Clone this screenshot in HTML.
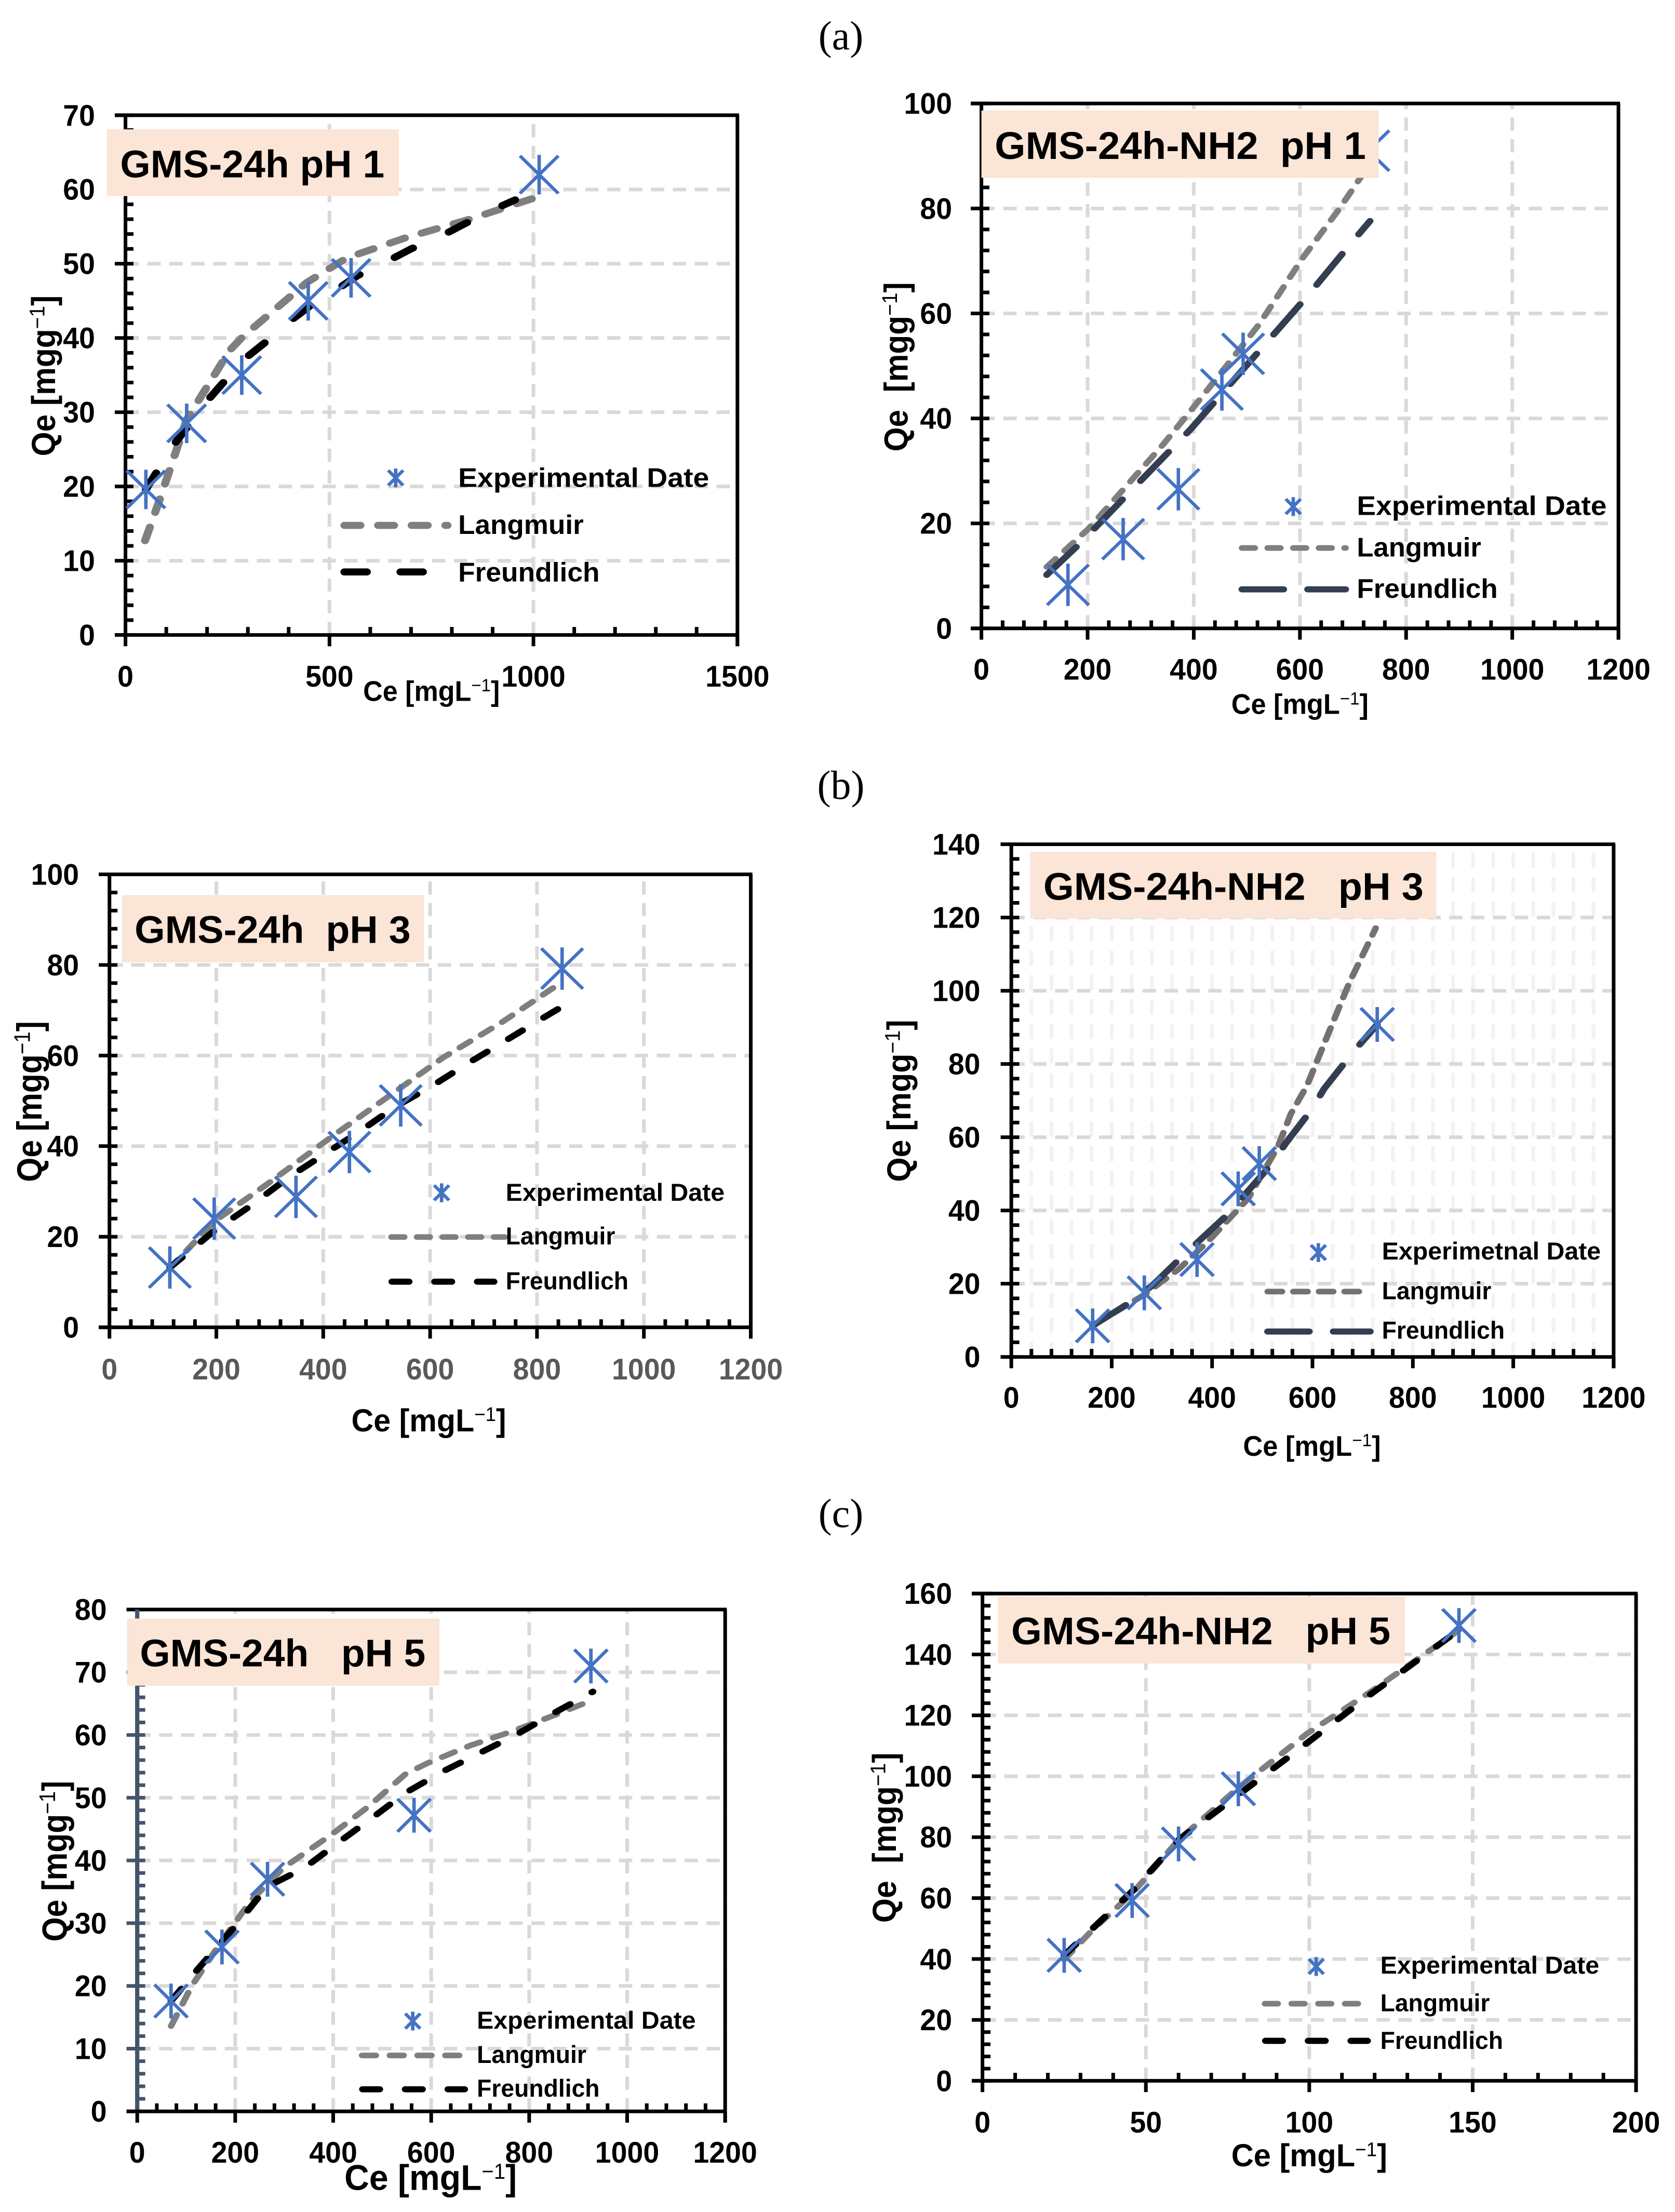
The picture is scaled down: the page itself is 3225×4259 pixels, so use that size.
<!DOCTYPE html>
<html lang="en">
<head>
<meta charset="utf-8">
<title>Adsorption isotherms</title>
<style>
html,body{margin:0;padding:0;background:#fff}
svg{display:block}
text{font-family:"Liberation Sans",sans-serif;font-weight:bold;fill:#000}
.cap{font-family:"Liberation Serif",serif;font-weight:normal;font-size:78px}
.sup{font-weight:normal}
</style>
</head>
<body>
<svg id="figure" xmlns="http://www.w3.org/2000/svg" width="3225" height="4259" viewBox="0 0 3225 4259">
<rect width="3225" height="4259" fill="#fff"/>
<text class="cap" x="1619" y="95" text-anchor="middle">(a)</text>
<text class="cap" x="1619" y="1538" text-anchor="middle">(b)</text>
<text class="cap" x="1619" y="2940" text-anchor="middle">(c)</text>

<g id="panelA" transform="translate(0,0) scale(1.0281,0.9056)">
  <g class="plot"></g>
  <rect x="200" y="275" width="547" height="142" fill="#fbe5d6"/>
  <text x="225" y="377" font-size="82" textLength="495" lengthAdjust="spacingAndGlyphs">GMS-24h pH 1</text>
  <g>
    <g stroke="#4472c4" stroke-width="6.5" fill="none"><path d="M727 1000L755 1032M755 1000L727 1032M741 996V1036"/></g>
    <text x="858" y="1035" font-size="57" textLength="470" lengthAdjust="spacingAndGlyphs">Experimental Date</text>
    <line x1="645" y1="1117" x2="838" y2="1117" stroke="#7f7f7f" stroke-width="15" stroke-linecap="round" stroke-dasharray="30 33"/>
    <text x="858" y="1135" font-size="57" textLength="235" lengthAdjust="spacingAndGlyphs">Langmuir</text>
    <line x1="645" y1="1216" x2="795" y2="1216" stroke="#000" stroke-width="15" stroke-linecap="round" stroke-dasharray="42 63"/>
    <text x="858" y="1236" font-size="57" textLength="265" lengthAdjust="spacingAndGlyphs">Freundlich</text>
  </g>
  <text transform="translate(103,970) rotate(-90)" font-size="62" textLength="342" lengthAdjust="spacingAndGlyphs">Qe [mgg<tspan class="sup" dy="-20" font-size="40">−1</tspan><tspan dy="20">]</tspan></text>
  <text x="680" y="1490" font-size="60" textLength="256" lengthAdjust="spacingAndGlyphs">Ce [mgL<tspan class="sup" dy="-20" font-size="38">−1</tspan><tspan dy="20">]</tspan></text>
</g>

<g id="panelB" transform="translate(1612,0) scale(1.0281,0.9056)">
  <g class="plot"></g>
  <rect x="270" y="235" width="744" height="143" fill="#fbe5d6"/>
  <text x="295" y="338" font-size="82" textLength="695" lengthAdjust="spacingAndGlyphs" xml:space="preserve">GMS-24h-NH2  pH 1</text>
  <g>
    <g stroke="#4472c4" stroke-width="6.5" fill="none"><path d="M840 1061L868 1093M868 1061L840 1093M854 1057V1097"/></g>
    <text x="973" y="1095" font-size="57" textLength="468" lengthAdjust="spacingAndGlyphs">Experimental Date</text>
    <line x1="758" y1="1165" x2="952" y2="1165" stroke="#7f7f7f" stroke-width="12" stroke-linecap="round" stroke-dasharray="24 24"/>
    <text x="973" y="1183" font-size="57" textLength="233" lengthAdjust="spacingAndGlyphs">Langmuir</text>
    <line x1="758" y1="1253" x2="952" y2="1253" stroke="#333f50" stroke-width="13" stroke-linecap="round" stroke-dasharray="78 45"/>
    <text x="973" y="1271" font-size="57" textLength="264" lengthAdjust="spacingAndGlyphs">Freundlich</text>
  </g>
  <text transform="translate(132,960) rotate(-90)" font-size="62" textLength="360" lengthAdjust="spacingAndGlyphs" xml:space="preserve">Qe  [mgg<tspan class="sup" dy="-20" font-size="40">−1</tspan><tspan dy="20">]</tspan></text>
  <text x="738" y="1518" font-size="60" textLength="257" lengthAdjust="spacingAndGlyphs">Ce [mgL<tspan class="sup" dy="-20" font-size="38">−1</tspan><tspan dy="20">]</tspan></text>
</g>

<g id="panelC" transform="translate(0,1420) scale(1.0281,0.9056)">
  <g class="plot"></g>
  <rect x="228" y="335" width="566" height="143" fill="#fbe5d6"/>
  <text x="252" y="437" font-size="82" textLength="517" lengthAdjust="spacingAndGlyphs" xml:space="preserve">GMS-24h  pH 3</text>
  <g>
    <g stroke="#4472c4" stroke-width="6.5" fill="none"><path d="M813 952L841 984M841 952L813 984M827 948V988"/></g>
    <text x="947" y="985" font-size="52" textLength="410" lengthAdjust="spacingAndGlyphs">Experimental Date</text>
    <line x1="733" y1="1062" x2="945" y2="1062" stroke="#7f7f7f" stroke-width="12" stroke-linecap="round" stroke-dasharray="24 24"/>
    <text x="947" y="1078" font-size="52" textLength="205" lengthAdjust="spacingAndGlyphs">Langmuir</text>
    <line x1="734" y1="1157" x2="925" y2="1157" stroke="#000" stroke-width="13" stroke-linecap="round" stroke-dasharray="32 48"/>
    <text x="947" y="1173" font-size="52" textLength="230" lengthAdjust="spacingAndGlyphs">Freundlich</text>
  </g>
  <text transform="translate(78,945) rotate(-90)" font-size="66" textLength="342" lengthAdjust="spacingAndGlyphs">Qe [mgg<tspan class="sup" dy="-22" font-size="42">−1</tspan><tspan dy="22">]</tspan></text>
  <text x="658" y="1475" font-size="68" textLength="290" lengthAdjust="spacingAndGlyphs">Ce [mgL<tspan class="sup" dy="-22" font-size="42">−1</tspan><tspan dy="22">]</tspan></text>
</g>

<g id="panelD" transform="translate(1612,1420) scale(1.0281,0.9056)">
  <g class="plot"></g>
  <rect x="362" y="243" width="760" height="142" fill="#fbe5d6"/>
  <text x="386" y="345" font-size="82" textLength="712" lengthAdjust="spacingAndGlyphs" xml:space="preserve">GMS-24h-NH2   pH 3</text>
  <g>
    <g stroke="#4472c4" stroke-width="6.5" fill="none"><path d="M887 1079L915 1111M915 1079L887 1111M901 1075V1115"/></g>
    <text x="1020" y="1110" font-size="52" textLength="410" lengthAdjust="spacingAndGlyphs">Experimetnal Date</text>
    <line x1="806" y1="1178" x2="998" y2="1178" stroke="#767171" stroke-width="12" stroke-linecap="round" stroke-dasharray="27 21"/>
    <text x="1020" y="1194" font-size="52" textLength="205" lengthAdjust="spacingAndGlyphs">Langmuir</text>
    <line x1="806" y1="1263" x2="998" y2="1263" stroke="#333f50" stroke-width="13" stroke-linecap="round" stroke-dasharray="78 45"/>
    <text x="1020" y="1278" font-size="52" textLength="230" lengthAdjust="spacingAndGlyphs">Freundlich</text>
  </g>
  <text transform="translate(137,945) rotate(-90)" font-size="62" textLength="345" lengthAdjust="spacingAndGlyphs">Qe [mgg<tspan class="sup" dy="-20" font-size="40">−1</tspan><tspan dy="20">]</tspan></text>
  <text x="760" y="1527" font-size="60" textLength="258" lengthAdjust="spacingAndGlyphs">Ce [mgL<tspan class="sup" dy="-20" font-size="38">−1</tspan><tspan dy="20">]</tspan></text>
</g>

<g id="panelE" transform="translate(0,2840) scale(1.0281,0.9056)">
  <g class="plot"></g>
  <rect x="238" y="305" width="585" height="143" fill="#fbe5d6"/>
  <text x="262" y="407" font-size="82" textLength="535" lengthAdjust="spacingAndGlyphs" xml:space="preserve">GMS-24h   pH 5</text>
  <g>
    <g stroke="#4472c4" stroke-width="6.5" fill="none"><path d="M759 1145L787 1177M787 1145L759 1177M773 1141V1181"/></g>
    <text x="893" y="1177" font-size="52" textLength="410" lengthAdjust="spacingAndGlyphs">Experimental Date</text>
    <line x1="678" y1="1234" x2="872" y2="1234" stroke="#7f7f7f" stroke-width="12" stroke-linecap="round" stroke-dasharray="26 26"/>
    <text x="893" y="1250" font-size="52" textLength="205" lengthAdjust="spacingAndGlyphs">Langmuir</text>
    <line x1="679" y1="1306" x2="870" y2="1306" stroke="#000" stroke-width="13" stroke-linecap="round" stroke-dasharray="32 48"/>
    <text x="893" y="1322" font-size="52" textLength="230" lengthAdjust="spacingAndGlyphs">Freundlich</text>
  </g>
  <text transform="translate(125,992) rotate(-90)" font-size="66" textLength="342" lengthAdjust="spacingAndGlyphs">Qe [mgg<tspan class="sup" dy="-22" font-size="42">−1</tspan><tspan dy="22">]</tspan></text>
  <text x="645" y="1520" font-size="76" textLength="323" lengthAdjust="spacingAndGlyphs">Ce [mgL<tspan class="sup" dy="-24" font-size="46">−1</tspan><tspan dy="24">]</tspan></text>
</g>

<g id="panelF" transform="translate(1612,2840) scale(1.0281,0.9056)">
  <g class="plot"></g>
  <rect x="301" y="258" width="762" height="143" fill="#fbe5d6"/>
  <text x="326" y="360" font-size="82" textLength="710" lengthAdjust="spacingAndGlyphs" xml:space="preserve">GMS-24h-NH2   pH 5</text>
  <g>
    <g stroke="#4472c4" stroke-width="6.5" fill="none"><path d="M883 1029L911 1061M911 1029L883 1061M897 1025V1065"/></g>
    <text x="1017" y="1060" font-size="52" textLength="410" lengthAdjust="spacingAndGlyphs">Experimental Date</text>
    <line x1="801" y1="1124" x2="995" y2="1124" stroke="#7f7f7f" stroke-width="12" stroke-linecap="round" stroke-dasharray="24 26"/>
    <text x="1017" y="1140" font-size="52" textLength="205" lengthAdjust="spacingAndGlyphs">Langmuir</text>
    <line x1="802" y1="1203" x2="993" y2="1203" stroke="#000" stroke-width="13" stroke-linecap="round" stroke-dasharray="32 48"/>
    <text x="1017" y="1220" font-size="52" textLength="230" lengthAdjust="spacingAndGlyphs">Freundlich</text>
  </g>
  <text transform="translate(110,952) rotate(-90)" font-size="62" textLength="362" lengthAdjust="spacingAndGlyphs" xml:space="preserve">Qe  [mgg<tspan class="sup" dy="-20" font-size="40">−1</tspan><tspan dy="20">]</tspan></text>
  <text x="738" y="1470" font-size="68" textLength="292" lengthAdjust="spacingAndGlyphs">Ce [mgL<tspan class="sup" dy="-22" font-size="42">−1</tspan><tspan dy="22">]</tspan></text>
</g>
</svg>

<script>
// ---------- Panel A: GMS-24h pH 1 ----------
const aXTicks = [0, 500, 1000, 1500];
const aYTicks = [0, 10, 20, 30, 40, 50, 60, 70];
const aExpCe = [50, 150, 285, 448, 553, 1014];
const aExpQe = [19.6, 28.5, 35, 45, 48.1, 62];
const aLangCe = [48, 85, 150, 255, 288, 445, 543, 687, 844, 1021];
const aLangQe = [12.7, 18.4, 29, 38.3, 40.2, 47.5, 50.8, 53.5, 56, 59.2];
const aFreuCe = [50, 118, 203, 288, 347, 399, 452, 517, 569, 641, 700, 766, 825, 890, 955];
const aFreuQe = [19.6, 25.6, 31.7, 37, 39.6, 42.1, 44.3, 46.5, 48.4, 50.3, 52, 53.5, 55.2, 57, 58.6];

// ---------- Panel B: GMS-24h-NH2 pH 1 ----------
const bXTicks = [0, 200, 400, 600, 800, 1000, 1200];
const bYTicks = [0, 20, 40, 60, 80, 100];
const bExpCe = [163, 267, 371, 453, 493, 729];
const bExpQe = [8.3, 17, 26.5, 45.5, 52.3, 91];
const bLangCe = [123, 201, 272, 342, 397, 453, 523, 604, 674, 719, 734];
const bLangQe = [11.7, 18.9, 27, 35, 41.8, 48.9, 57.9, 70.4, 79.9, 86.6, 88.8];
const bFreuCe = [123, 186, 272, 362, 392, 528, 614, 694, 732];
const bFreuQe = [10.2, 16.2, 25.2, 34.6, 37.7, 53.4, 63.3, 73.1, 77.6];

// ---------- Panel C: GMS-24h pH 3 ----------
const cXTicks = [0, 200, 400, 600, 800, 1000, 1200];
const cYTicks = [0, 20, 40, 60, 80, 100];
const cExpCe = [113, 196, 349, 449, 545, 847];
const cExpQe = [13.2, 24, 28.8, 38.7, 49, 79.2];
const cLangCe = [113, 195, 295, 415, 545, 625, 735, 840];
const cLangQe = [13, 23.3, 31.6, 42, 52.9, 59.6, 67.4, 75.7];
const cFreuCe = [113, 195, 265, 335, 465, 535, 605, 675, 740, 810, 847];
const cFreuQe = [13.2, 21.2, 26.9, 33.1, 43, 48.7, 53.4, 58.6, 63.2, 68.2, 70.8];

// ---------- Panel D: GMS-24h-NH2 pH 3 ----------
const dXTicks = [0, 200, 400, 600, 800, 1000, 1200];
const dYTicks = [0, 20, 40, 60, 80, 100, 120, 140];
const dExpCe = [162, 265, 370, 452, 494, 729];
const dExpQe = [8.5, 17.5, 26.6, 45.9, 52.8, 90.8];
const dLangCe = [162, 265, 334, 398, 472, 531, 557, 589, 616, 643, 674, 701, 726];
const dLangQe = [8.5, 17, 24, 32.4, 43.3, 57.4, 66.4, 74.1, 83.1, 92.1, 102.4, 110, 117.1];
const dFreuCe = [162, 233, 281, 334, 430, 520, 547, 599, 623, 680, 729];
const dFreuQe = [8.5, 14.6, 19.5, 26.6, 38.8, 52.9, 58.4, 67.7, 73.2, 83.1, 90.8];

// ---------- Panel E: GMS-24h pH 5 ----------
const eXTicks = [0, 200, 400, 600, 800, 1000, 1200];
const eYTicks = [0, 10, 20, 30, 40, 50, 60, 70, 80];
const eExpCe = [69, 173, 266, 565, 926];
const eExpQe = [17.6, 26.2, 37, 47.2, 71];
const eLangCe = [69, 112, 173, 232, 298, 396, 472, 548, 592, 679, 766, 853, 930];
const eLangQe = [13.6, 20.1, 27.2, 33.6, 38.8, 44.1, 48.6, 53.8, 55.5, 58.3, 60.6, 63.2, 65.6];
const eFreuCe = [69, 124, 203, 265, 341, 406, 483, 548, 624, 701, 777, 853, 930];
const eFreuQe = [17.6, 22.7, 29.8, 35.8, 38.8, 42.6, 47, 50.8, 54.2, 57.2, 60.2, 63.6, 66.9];

// ---------- Panel F: GMS-24h-NH2 pH 5 ----------
const fXTicks = [0, 50, 100, 150, 200];
const fYTicks = [0, 20, 40, 60, 80, 100, 120, 140, 160];
const fExpCe = [25, 45.8, 60, 78.3, 145.8];
const fExpQe = [41.2, 59.2, 77.8, 95.9, 149.5];
const fLangCe = [25, 34, 45.8, 60.1, 78.3, 99.3, 119, 145.8];
const fLangQe = [39.8, 49.9, 61.5, 79.2, 96.2, 114, 127.9, 148];
const fFreuCe = [25, 38.9, 45.8, 60.1, 78.3, 99.3, 119, 145.8];
const fFreuQe = [41.2, 55.3, 62.2, 79.2, 93.9, 110.9, 127.1, 148];

const NS = 'http://www.w3.org/2000/svg';
const H_STROKE = 7.7;
const V_STROKE = 6.8;

function make(tag, parent, attrs) {
  const el = document.createElementNS(NS, tag);
  for (const k in attrs) el.setAttribute(k, attrs[k]);
  parent.appendChild(el);
  return el;
}

function linear(d0, d1, r0, r1) {
  return function (v) { return r0 + (v - d0) * (r1 - r0) / (d1 - d0); };
}

function drawGrid(g, s, xs, ys) {
  const xTicks = s.xTicks, yTicks = s.yTicks;
  const gridV = s.denseGrid
    ? Array.from({length: Math.round((xTicks[xTicks.length - 1] - xTicks[0]) / s.xMinor) + 1}, (_, i) => xTicks[0] + i * s.xMinor)
    : xTicks;
  gridV.forEach(function (t) {
    if (t === xTicks[0]) return;
    const el = make('line', g, {x1: xs(t), x2: xs(t), y1: s.bottom, y2: s.top,
      stroke: s.denseGrid ? '#f2f2f2' : '#d9d9d9', 'stroke-width': V_STROKE, 'stroke-dasharray': s.denseGrid ? '32 20' : '28 18'});
    
    
  });
  yTicks.forEach(function (t) {
    if (t === yTicks[0]) return;
    const el = make('line', g, {x1: s.left, x2: s.right, y1: ys(t), y2: ys(t),
      stroke: '#d9d9d9', 'stroke-width': H_STROKE, 'stroke-dasharray': '25 16'});
    
    
  });
}

function drawAxes(g, s, xs, ys) {
  const yCol = s.yAxisColor || '#000';
  const xMax = s.xTicks[s.xTicks.length - 1], yMax = s.yTicks[s.yTicks.length - 1];
  for (let v = s.xTicks[0]; v <= xMax + 1e-6; v += s.xMinor) {
    const isMajor = s.xTicks.indexOf(v) >= 0;
    const tick = make('line', g, {x1: xs(v), x2: xs(v), y1: s.bottom - (isMajor ? 0 : 17), y2: s.bottom + (isMajor ? 24 : 0), stroke: '#000', 'stroke-width': V_STROKE});
    
    
  }
  for (let v = s.yTicks[0]; v <= yMax + 1e-6; v += s.yMinor) {
    const isMajor = s.yTicks.indexOf(v) >= 0;
    const tick = make('line', g, {x1: s.left - (isMajor ? 20 : 0), x2: s.left + 15, y1: ys(v), y2: ys(v), stroke: yCol, 'stroke-width': H_STROKE});
    
    
  }
  const top = make('line', g, {x1: s.left - 20, x2: s.right + 3, y1: s.top, y2: s.top, stroke: '#000', 'stroke-width': H_STROKE});
  
  
  const right = make('line', g, {x1: s.right, x2: s.right, y1: s.top, y2: s.bottom + 24, stroke: '#000', 'stroke-width': V_STROKE});
  
  
  const yAxis = make('line', g, {x1: s.left, x2: s.left, y1: s.top, y2: s.bottom, stroke: yCol, 'stroke-width': s.yAxisColor ? 8 : V_STROKE});
  
  
  const xAxis = make('line', g, {x1: s.left - 20, x2: s.right + 3, y1: s.bottom, y2: s.bottom, stroke: '#000', 'stroke-width': H_STROKE});
  
  
}

function drawTickLabels(g, s, xs, ys) {
  s.xTicks.forEach(function (t) {
    const label = String(t);
    const el = make('text', g, {x: xs(t), y: s.xLabelY, 'text-anchor': 'middle', 'font-size': 63,
      textLength: label.length * 30, lengthAdjust: 'spacingAndGlyphs', style: 'fill:' + (s.xLabelColor || '#000')});
    el.textContent = label;
    
    
  });
  s.yTicks.forEach(function (t) {
    const label = String(t);
    const el = make('text', g, {x: s.yLabelX, y: ys(t) + 22, 'text-anchor': 'end', 'font-size': 63,
      textLength: label.length * 30, lengthAdjust: 'spacingAndGlyphs'});
    el.textContent = label;
    
    
  });
}

function curvePath(xv, yv, xs, ys) {
  return xv.map(function (v, i) { return (i ? 'L' : 'M') + xs(v).toFixed(1) + ' ' + ys(yv[i]).toFixed(1); }).join('');
}

function drawCurves(g, s, xs, ys) {
  const lang = make('path', g, {d: curvePath(s.langCe, s.langQe, xs, ys), fill: 'none', stroke: s.langColor,
    'stroke-width': s.langWidth, 'stroke-linecap': 'round', 'stroke-linejoin': 'round', 'stroke-dasharray': s.langDash});
  
  
  const freu = make('path', g, {d: curvePath(s.freuCe, s.freuQe, xs, ys), fill: 'none', stroke: s.freuColor,
    'stroke-width': s.freuWidth, 'stroke-linecap': 'round', 'stroke-linejoin': 'round', 'stroke-dasharray': s.freuDash});
  
  
}

function drawMarkers(g, s, xs, ys) {
  s.expCe.forEach(function (v, i) {
    const cx = xs(v), cy = ys(s.expQe[i]), hx = s.markerX, hy = s.markerY;
    const d = 'M' + (cx - hx) + ' ' + (cy - hy) + 'L' + (cx + hx) + ' ' + (cy + hy) +
              'M' + (cx + hx) + ' ' + (cy - hy) + 'L' + (cx - hx) + ' ' + (cy + hy) +
              'M' + cx + ' ' + (cy - hy - 2) + 'V' + (cy + hy + 2);
    const el = make('path', g, {d: d, fill: 'none', stroke: '#4472c4', 'stroke-width': 6.5});
    
    
  });
}

function drawPanel(id, s) {
  const g = document.querySelector('#' + id + ' .plot');
  const xs = linear(s.xTicks[0], s.xTicks[s.xTicks.length - 1], s.left, s.right);
  const ys = linear(s.yTicks[0], s.yTicks[s.yTicks.length - 1], s.bottom, s.top);
  drawGrid(g, s, xs, ys);
  drawAxes(g, s, xs, ys);
  drawTickLabels(g, s, xs, ys);
  drawCurves(g, s, xs, ys);
  drawMarkers(g, s, xs, ys);
}

drawPanel('panelA', {
  left: 235, right: 1381, top: 245, bottom: 1350, xMinor: 100, yMinor: 2, xLabelY: 1460, yLabelX: 178,
  xTicks: aXTicks, yTicks: aYTicks, expCe: aExpCe, expQe: aExpQe, langCe: aLangCe, langQe: aLangQe, freuCe: aFreuCe, freuQe: aFreuQe,
  langColor: '#7f7f7f', langWidth: 15, langDash: '30 33', freuColor: '#000', freuWidth: 15, freuDash: '40 75', markerX: 36, markerY: 40
});
drawPanel('panelB', {
  left: 270, right: 1463, top: 220, bottom: 1336, xMinor: 40, yMinor: 4, xLabelY: 1445, yLabelX: 215,
  xTicks: bXTicks, yTicks: bYTicks, expCe: bExpCe, expQe: bExpQe, langCe: bLangCe, langQe: bLangQe, freuCe: bFreuCe, freuQe: bFreuQe,
  langColor: '#7f7f7f', langWidth: 12, langDash: '24 24', freuColor: '#333f50', freuWidth: 13, freuDash: '81 52', markerX: 39, markerY: 43
});
drawPanel('panelC', {
  left: 205, right: 1406, top: 291, bottom: 1254, xMinor: 40, yMinor: 4, xLabelY: 1365, yLabelX: 148, xLabelColor: '#595959',
  xTicks: cXTicks, yTicks: cYTicks, expCe: cExpCe, expQe: cExpQe, langCe: cLangCe, langQe: cLangQe, freuCe: cFreuCe, freuQe: cFreuQe,
  langColor: '#7f7f7f', langWidth: 12, langDash: '24 24', freuColor: '#000', freuWidth: 13, freuDash: '32 48', markerX: 39, markerY: 43
});
drawPanel('panelD', {
  left: 326, right: 1454, top: 227, bottom: 1317, xMinor: 40, yMinor: 4, xLabelY: 1425, yLabelX: 268, denseGrid: true,
  xTicks: dXTicks, yTicks: dYTicks, expCe: dExpCe, expQe: dExpQe, langCe: dLangCe, langQe: dLangQe, freuCe: dFreuCe, freuQe: dFreuQe,
  langColor: '#767171', langWidth: 12, langDash: '27 21', freuColor: '#333f50', freuWidth: 13, freuDash: '76 55', markerX: 31, markerY: 35
});
drawPanel('panelE', {
  left: 257, right: 1358, top: 286, bottom: 1353, xMinor: 40, yMinor: 2, xLabelY: 1462, yLabelX: 200, yAxisColor: '#44546a',
  xTicks: eXTicks, yTicks: eYTicks, expCe: eExpCe, expQe: eExpQe, langCe: eLangCe, langQe: eLangQe, freuCe: eFreuCe, freuQe: eFreuQe,
  langColor: '#7f7f7f', langWidth: 12, langDash: '26 26', freuColor: '#000', freuWidth: 13, freuDash: '32 48', markerX: 31, markerY: 35
});
drawPanel('panelF', {
  left: 272, right: 1496, top: 252, bottom: 1288, xMinor: 10, yMinor: 4, xLabelY: 1398, yLabelX: 215,
  xTicks: fXTicks, yTicks: fYTicks, expCe: fExpCe, expQe: fExpQe, langCe: fLangCe, langQe: fLangQe, freuCe: fFreuCe, freuQe: fFreuQe,
  langColor: '#7f7f7f', langWidth: 12, langDash: '24 26', freuColor: '#000', freuWidth: 13, freuDash: '32 48', markerX: 31, markerY: 35
});
</script>
</body>
</html>
